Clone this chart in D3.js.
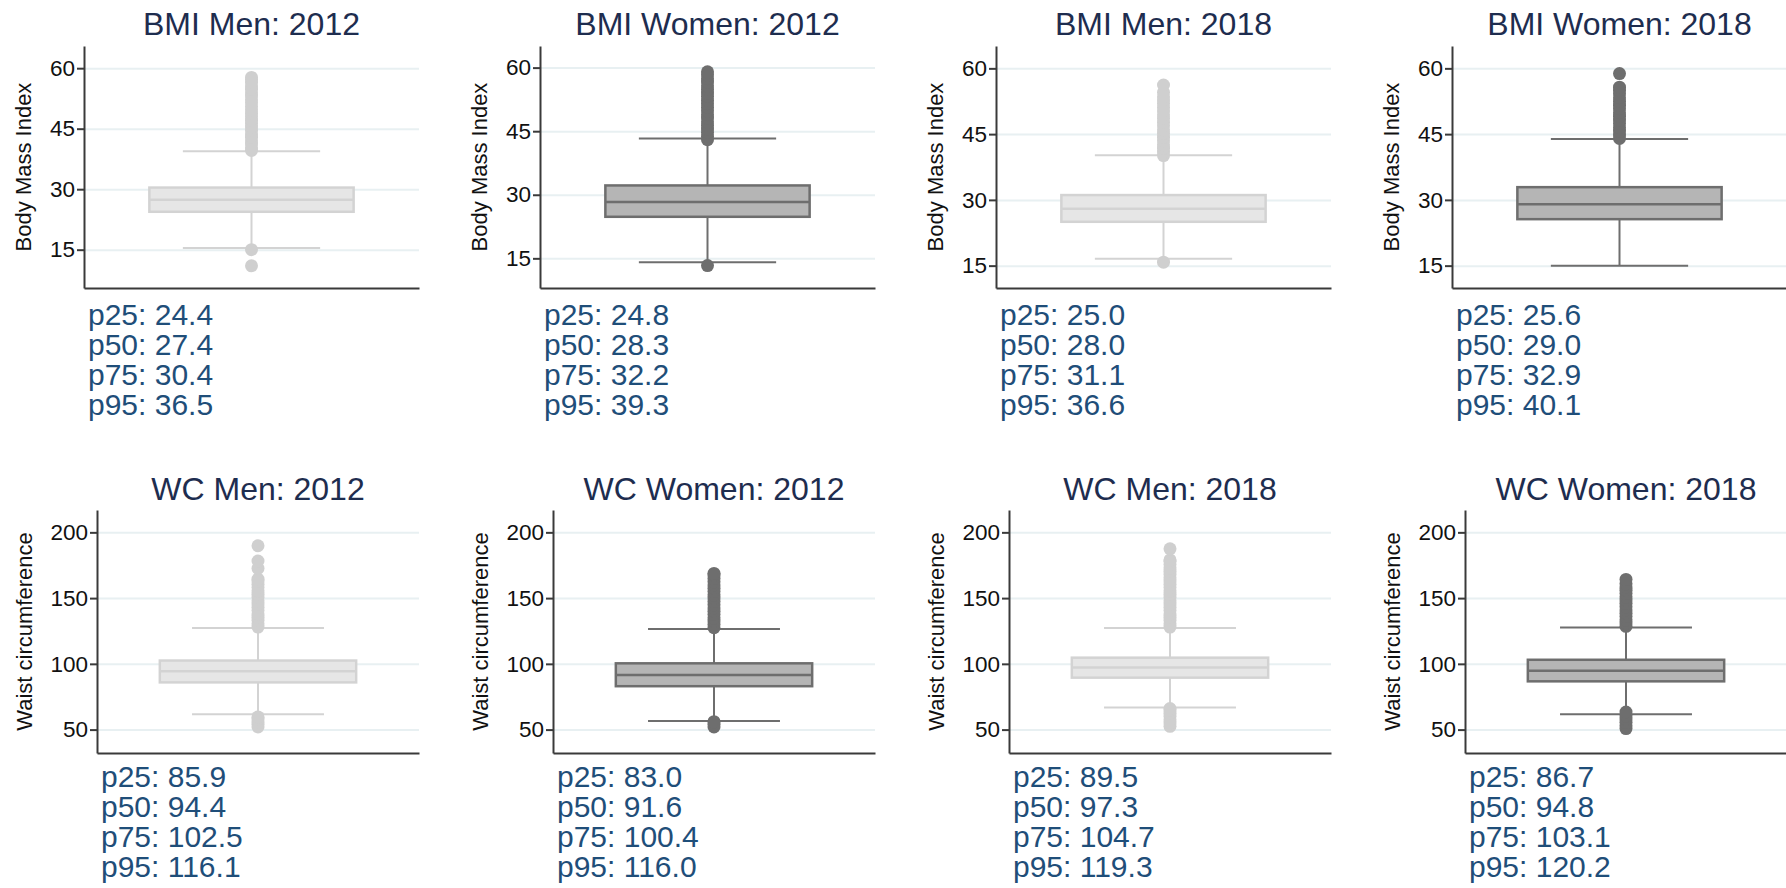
<!DOCTYPE html>
<html>
<head>
<meta charset="utf-8">
<script src="https://cdn.jsdelivr.net/npm/d3@7"></script>
<style>
body { margin: 0; background: #fff; }
text { font-family: "Liberation Sans", Arial, sans-serif; }
</style>
</head>
<body>
<script>
// panels, left to right then top to bottom
const titles = ["BMI Men: 2012", "BMI Women: 2012", "BMI Men: 2018", "BMI Women: 2018",
  "WC Men: 2012", "WC Women: 2012", "WC Men: 2018", "WC Women: 2018"];
const sexes = ["men", "women", "men", "women", "men", "women", "men", "women"];
const yTitles = ["Body Mass Index", "Waist circumference"];
const yTicks = [[15, 30, 45, 60], [50, 100, 150, 200]];
const yMin = [5.5, 8.0, 9.9, 9.9, 32.2, 32.2, 32.2, 32.2];
const yMax = [65.5, 65.1, 65.1, 65.1, 217, 217, 217, 217];

const p25 = [24.4, 24.8, 25.0, 25.6, 85.9, 83.0, 89.5, 86.7];
const p50 = [27.4, 28.3, 28.0, 29.0, 94.4, 91.6, 97.3, 94.8];
const p75 = [30.4, 32.2, 31.1, 32.9, 102.5, 100.4, 104.7, 103.1];
const p95 = [36.5, 39.3, 36.6, 40.1, 116.1, 116.0, 119.3, 120.2];
const whiskerLow = [15.4, 14.1, 16.6, 15.0, 61.7, 56.6, 66.8, 61.7];
const whiskerHigh = [39.4, 43.3, 40.2, 43.9, 127.2, 126.5, 127.3, 127.6];

const outliers = [
  [11.0, 15.0, 39.6, 40.3, 41.2, 42.0, 42.9, 43.7, 44.6, 45.4, 46.3, 47.1, 48.0, 48.8, 49.7, 50.5, 51.4, 52.2, 53.1, 53.9, 54.8, 55.6, 56.5, 57.2, 57.7],
  [13.3, 43.0, 43.8, 44.7, 45.5, 46.4, 47.2, 48.1, 48.9, 49.8, 50.6, 51.5, 52.3, 53.2, 54.0, 54.9, 55.7, 56.6, 57.4, 58.3, 59.0],
  [15.8, 40.1, 40.9, 41.8, 42.6, 43.5, 44.3, 45.2, 46.0, 46.9, 47.7, 48.6, 49.4, 50.3, 51.1, 52.0, 52.8, 53.5, 54.5, 56.2],
  [44.0, 44.8, 45.7, 46.5, 47.4, 48.2, 49.1, 49.9, 50.8, 51.6, 52.5, 53.3, 54.2, 55.0, 55.7, 58.8],
  [52.0, 54.0, 56.0, 58.0, 59.6, 128.0, 130.5, 133.0, 135.5, 138.0, 140.5, 143.0, 145.5, 148.0, 150.5, 153.0, 155.5, 158.0, 160.5, 163.0, 164.5, 172.6, 178.2, 189.8],
  [52.0, 54.0, 56.0, 127.5, 130.0, 132.5, 135.0, 137.5, 140.0, 142.5, 145.0, 147.5, 150.0, 152.5, 155.0, 157.5, 160.0, 162.5, 165.0, 167.5, 168.8],
  [52.5, 55.0, 57.5, 60.0, 62.5, 65.0, 66.0, 128.0, 130.5, 133.0, 135.5, 138.0, 140.5, 143.0, 145.5, 148.0, 150.5, 153.0, 155.5, 158.0, 160.5, 163.0, 165.5, 168.0, 170.5, 173.0, 175.5, 178.0, 179.0, 187.5],
  [50.8, 53.0, 55.5, 58.0, 60.5, 63.4, 128.5, 131.0, 133.5, 136.0, 138.5, 141.0, 143.5, 146.0, 148.5, 151.0, 153.5, 156.0, 158.5, 161.0, 164.2]
];

const colors = {
  men: {fill: "#e6e6e6", line: "#d3d3d3", dot: "#cfcfcf"},
  women: {fill: "#b5b5b5", line: "#6e6e6e", dot: "#6e6e6e"}
};

const width = 1786, height = 888, cellW = 456;
const rows = [
  {top: 46, bottom: 288, left: 84, right: 419, titleY: 35, textY: 325, labelX: 53},
  {top: 510, bottom: 753, left: 97, right: 419, titleY: 500, textY: 787, labelX: 65}
];

const svg = d3.select('body')
.append('svg')
.attr('width', width)
.attr('height', height);

titles.forEach((title, i) => {
  const r = Math.floor(i / 4);
  const row = rows[r];
  const col = i % 4;
  const x0 = row.left + col * cellW;
  const x1 = row.right + col * cellW;
  const c = colors[sexes[i]];

  const y = d3.scaleLinear()
  .domain([yMin[i], yMax[i]])
  .range([row.bottom, row.top]);

  const x = d3.scaleBand()
  .domain([title])
  .range([x0, x1])
  .paddingInner(0)
  .paddingOuter(0.32);

  const g = svg.append('g');

  // grid
  g.append('g')
  .attr('transform', 'translate(' + x0 + ',0)')
  .call(d3.axisLeft(y).tickValues(yTicks[r]).tickSize(-(x1 - x0)).tickFormat(''))
  .call(s => s.select('.domain').remove())
  .selectAll('line')
  .attr('stroke', '#e8f0f2')
  .attr('stroke-width', 2);

  const cx = x(title) + x.bandwidth() / 2;
  const bw = x.bandwidth();
  const capW = bw * 0.672;

  // whiskers
  g.append('line')
  .attr('x1', cx).attr('x2', cx)
  .attr('y1', y(whiskerLow[i])).attr('y2', y(whiskerHigh[i]))
  .attr('stroke', c.line).attr('stroke-width', 2);
  [whiskerLow[i], whiskerHigh[i]].forEach(v => {
    g.append('line')
    .attr('x1', cx - capW / 2).attr('x2', cx + capW / 2)
    .attr('y1', y(v)).attr('y2', y(v))
    .attr('stroke', c.line).attr('stroke-width', 2);
  });

  // outliers
  g.selectAll('circle.out')
  .data(outliers[i])
  .join('circle')
  .attr('class', 'out')
  .attr('cx', cx)
  .attr('cy', d => y(d))
  .attr('r', 6.5)
  .attr('fill', c.dot);

  // box
  g.append('rect')
  .attr('x', x(title))
  .attr('width', bw)
  .attr('y', y(p75[i]))
  .attr('height', y(p25[i]) - y(p75[i]))
  .attr('fill', c.fill)
  .attr('stroke', c.line)
  .attr('stroke-width', 2.5);
  g.append('line')
  .attr('x1', x(title)).attr('x2', x(title) + bw)
  .attr('y1', y(p50[i])).attr('y2', y(p50[i]))
  .attr('stroke', c.line).attr('stroke-width', 2.5);

  // axes
  const yAxis = g.append('g')
  .attr('transform', 'translate(' + x0 + ',0)')
  .call(d3.axisLeft(y).tickValues(yTicks[r]).tickSize(7).tickSizeOuter(0).tickPadding(2));
  yAxis.select('.domain').attr('stroke', '#3a3a3a').attr('stroke-width', 2);
  yAxis.selectAll('.tick line').attr('stroke', '#3a3a3a').attr('stroke-width', 2);
  yAxis.selectAll('.tick text')
  .attr('fill', '#111')
  .style('font-size', '22.5px')
  .style('font-family', '"Liberation Sans", Arial, sans-serif');

  const xAxis = g.append('g')
  .attr('transform', 'translate(0,' + row.bottom + ')')
  .call(d3.axisBottom(x).tickValues([]).tickSizeOuter(0));
  xAxis.select('.domain').attr('stroke', '#3a3a3a').attr('stroke-width', 2);

  // y axis title
  g.append('text')
  .attr('transform', 'translate(' + (x0 - row.labelX) + ',' + ((row.top + row.bottom) / 2) + ') rotate(-90)')
  .attr('text-anchor', 'middle')
  .attr('fill', '#111')
  .style('font-size', '22px')
  .text(yTitles[r]);

  // panel title
  g.append('text')
  .attr('x', (x0 + x1) / 2)
  .attr('y', row.titleY)
  .attr('text-anchor', 'middle')
  .attr('fill', '#1e2d4f')
  .style('font-size', '32px')
  .text(title);

  // percentile note
  const note = g.append('text')
  .attr('x', x0 + 4)
  .attr('y', row.textY)
  .attr('fill', '#1f4e79')
  .style('font-size', '30px');
  [["p25", p25[i]], ["p50", p50[i]], ["p75", p75[i]], ["p95", p95[i]]].forEach((d, k) => {
    note.append('tspan')
    .attr('x', x0 + 4)
    .attr('y', row.textY + k * 30)
    .text(d[0] + ': ' + d3.format('.1f')(d[1]));
  });
});
</script>
</body>
</html>
